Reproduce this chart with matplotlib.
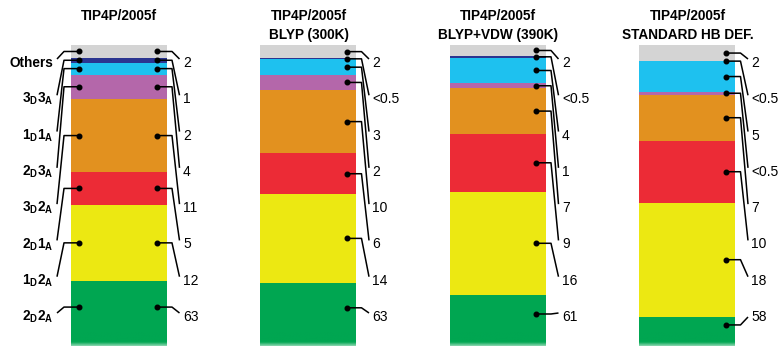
import numpy as np
import matplotlib
matplotlib.use("Agg")
import matplotlib.pyplot as plt
from matplotlib.colors import to_rgb

plt.rcParams['font.family'] = ['Liberation Sans', 'DejaVu Sans']
plt.rcParams['mathtext.fontset'] = 'custom'
plt.rcParams['mathtext.rm'] = 'Liberation Sans'
plt.rcParams['mathtext.bf'] = 'Liberation Sans:bold'
plt.rcParams['mathtext.it'] = 'Liberation Sans:italic'

# ---------------------------------------------------------------- data
titles = [
    ["TIP4P/2005f"],
    ["TIP4P/2005f", "BLYP (300K)"],
    ["TIP4P/2005f", "BLYP+VDW (390K)"],
    ["TIP4P/2005f", "STANDARD HB DEF."],
]

# H-bond topologies, listed from the top of each bar to the bottom
categories = ["Others", "3D3A", "1D1A", "2D3A", "3D2A", "2D1A", "1D2A", "2D2A"]
category_labels = [
    "Others",
    r"$\mathbf{3_{D}3_{A}}$",
    r"$\mathbf{1_{D}1_{A}}$",
    r"$\mathbf{2_{D}3_{A}}$",
    r"$\mathbf{3_{D}2_{A}}$",
    r"$\mathbf{2_{D}1_{A}}$",
    r"$\mathbf{1_{D}2_{A}}$",
    r"$\mathbf{2_{D}2_{A}}$",
]
colors = ["#d4d4d4", "#2b3590", "#1ec1ef", "#b467aa",
          "#e2911f", "#ec2b36", "#ece812", "#00a651"]

# segment shares of each bar (%), top to bottom
shares_tip4p = [4.5, 1.6, 4.2, 8.4, 25.5, 11.2, 26.6, 18.0]
shares_blyp300 = [4.6, 0.4, 5.4, 5.2, 22.0, 14.2, 30.7, 17.5]
shares_blypvdw = [3.8, 0.6, 8.9, 1.7, 15.9, 20.0, 35.9, 13.2]
shares_stdhb = [5.6, 0.0, 10.7, 0.9, 16.1, 21.4, 39.7, 5.6]

# populations (%) written beside each bar
values_tip4p = ["2", "1", "2", "4", "11", "5", "12", "63"]
values_blyp300 = ["2", "<0.5", "3", "2", "10", "6", "14", "63"]
values_blypvdw = ["2", "<0.5", "4", "1", "7", "9", "16", "61"]
values_stdhb = ["2", "<0.5", "5", "<0.5", "7", "10", "18", "58"]

shares = [shares_tip4p, shares_blyp300, shares_blypvdw, shares_stdhb]
values = [values_tip4p, values_blyp300, values_blypvdw, values_stdhb]

# ---------------------------------------------------------------- layout
W, H = 779, 346
fig = plt.figure(figsize=(W / 100, H / 100), dpi=100)
ax = fig.add_axes([0, 0, 1, 1])
ax.set_xlim(0, W)
ymin, ymax = -4.514, 115.625
ax.set_ylim(ymin, ymax)
ax.axis("off")

bar_x = [119 + 189.5 * i for i in range(4)]
bar_w = 96
row_px = np.linspace(63, 317, len(categories))   # label rows, pixels from top


def px2v(ypx):
    """Pixel row (from the top) -> y data value."""
    return ax.transData.inverted().transform((0, H - ypx))[1]


def v2px(v):
    return H - ax.transData.transform((0, v))[1]


LW = 1.1
for b, (xc, sh, vals, ttl) in enumerate(zip(bar_x, shares, values, titles)):
    sh = np.asarray(sh, dtype=float)
    tops = 100 - np.concatenate([[0], np.cumsum(sh)[:-1]])
    bottoms = tops - sh
    ax.bar([xc] * len(sh), sh, bottom=bottoms, width=bar_w,
           color=colors, linewidth=0, zorder=1)

    xl, xr = xc - bar_w / 2, xc + bar_w / 2

    # bottom segment continues below the axis and fades out
    n = 60
    rgb = to_rgb(colors[-1])
    alpha = np.ones(n)
    k = int(n * 0.7)
    alpha[k:] = np.linspace(1.0, 0.45, n - k)
    grad = np.zeros((n, 2, 4))
    grad[..., :3] = rgb
    grad[..., 3] = alpha[:, None]
    ax.imshow(grad, extent=[xl, xr, ymin, 0], aspect="auto",
              interpolation="bilinear", zorder=1)

    centers = bottoms + sh / 2

    # right-hand leader lines and values
    for i, (c, lab) in enumerate(zip(centers, vals)):
        dpx = v2px(c)
        end_px = row_px[i] - 4 if row_px[i] > dpx else row_px[i]
        xd = xr - 9.5
        ax.plot([xd, xr + 5, xr + 12.5], [c, c, px2v(end_px)],
                color="black", lw=LW, solid_capstyle="butt", zorder=3)
        ax.plot(xd, c, "o", color="black", ms=3.3, zorder=4)
        ax.text(xr + 16, px2v(row_px[i]), lab, ha="left", va="center",
                fontsize=10, zorder=5)

    # left-hand leader lines and category names on the first bar
    if b == 0:
        for i, (c, lab) in enumerate(zip(centers, category_labels)):
            dpx = v2px(c)
            end_px = row_px[i] - 4 if row_px[i] > dpx else row_px[i]
            xd = xl + 8.5
            ax.plot([xd, xl - 7, xl - 14], [c, c, px2v(end_px)],
                    color="black", lw=LW, solid_capstyle="butt", zorder=3)
            ax.plot(xd, c, "o", color="black", ms=3.3, zorder=4)
            ax.text(xl - 18, px2v(row_px[i]), lab, ha="right", va="center",
                    fontsize=9.8, fontweight="bold", zorder=5)

    # titles
    for j, line in enumerate(ttl):
        ax.text(xc, px2v(16 + 19.5 * j), line, ha="center", va="center",
                fontsize=9.8, fontweight="bold")

ax.set_xlim(0, W)
ax.set_ylim(ymin, ymax)
fig.savefig("out.png", dpi=100)
